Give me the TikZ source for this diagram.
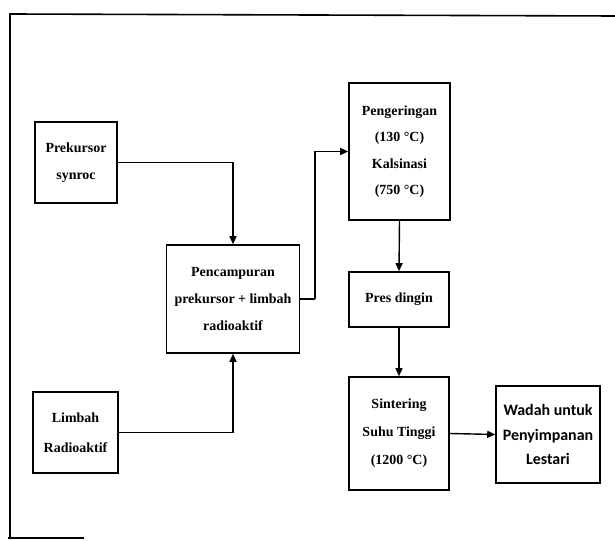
\documentclass[tikz,border=0pt]{standalone}
\usepackage{fontspec}
\setmainfont{Liberation Serif}
\newfontfamily\wadahfont{Carlito}
\usetikzlibrary{arrows.meta}
\begin{document}
\begin{tikzpicture}[x=1bp,y=-1bp,
  box/.style={draw=black,line width=1.6bp,align=center,inner sep=0pt,
    font=\bfseries\fontsize{14}{27}\selectfont},
  arr/.style={line width=1.4bp,-{Triangle[length=8bp,width=7bp]}},
  conn/.style={line width=1.4bp},
  frame/.style={line width=1.6bp}]
\useasboundingbox (0,0) rectangle (615,541);
% outer frame (partial, as printed)
\coordinate (f1) at (10,14);
\coordinate (f2) at (615,16);
\coordinate (f3) at (10,538);
\coordinate (f4) at (84,538);
\draw[frame] (f2) -- (f1) -- (f3);
\draw[frame] (8,538) -- (f4);
% boxes
\node[box,minimum width=82bp,minimum height=81bp] (pre) at (76,162.5) {Prekursor\\synroc};
\node[box,minimum width=85bp,minimum height=81bp,font=\bfseries\fontsize{14}{30}\selectfont] (lim) at (75.5,432.5) {Limbah\\Radioaktif};
\node[box,minimum width=133bp,minimum height=108bp] (mix) at (233,299) {Pencampuran\\prekursor + limbah\\radioaktif};
\node[box,minimum width=101bp,minimum height=137bp,font=\bfseries\fontsize{14}{26.5}\selectfont] (pen) at (399.5,151.5) {Pengeringan\\(130 °C)\\Kalsinasi\\(750 °C)};
\node[box,minimum width=100bp,minimum height=55bp] (pres) at (399,299.5) {Pres dingin};
\node[box,minimum width=100bp,minimum height=113bp,font=\bfseries\fontsize{14}{28}\selectfont] (sint) at (399,433.5) {Sintering\\Suhu Tinggi\\(1200 °C)};
\node[box,minimum width=104bp,minimum height=97bp,font=\wadahfont\bfseries\fontsize{16}{25}\selectfont] (wad) at (548,434.5) {Wadah untuk\\Penyimpanan\\Lestari};
% connectors
\draw[arr] (pre.east) -| (mix.north);
\draw[arr] (lim.east) -| (mix.south);
\coordinate (k) at (315,299);
\draw[conn] (mix.east) -- (k);
\draw[arr] (k) |- (pen.west);
\draw[arr] (pen.south) -- (pres.north);
\draw[arr] (pres.south) -- (sint.north);
\draw[arr] (sint.east) -- (wad.west);
\end{tikzpicture}
\end{document}
